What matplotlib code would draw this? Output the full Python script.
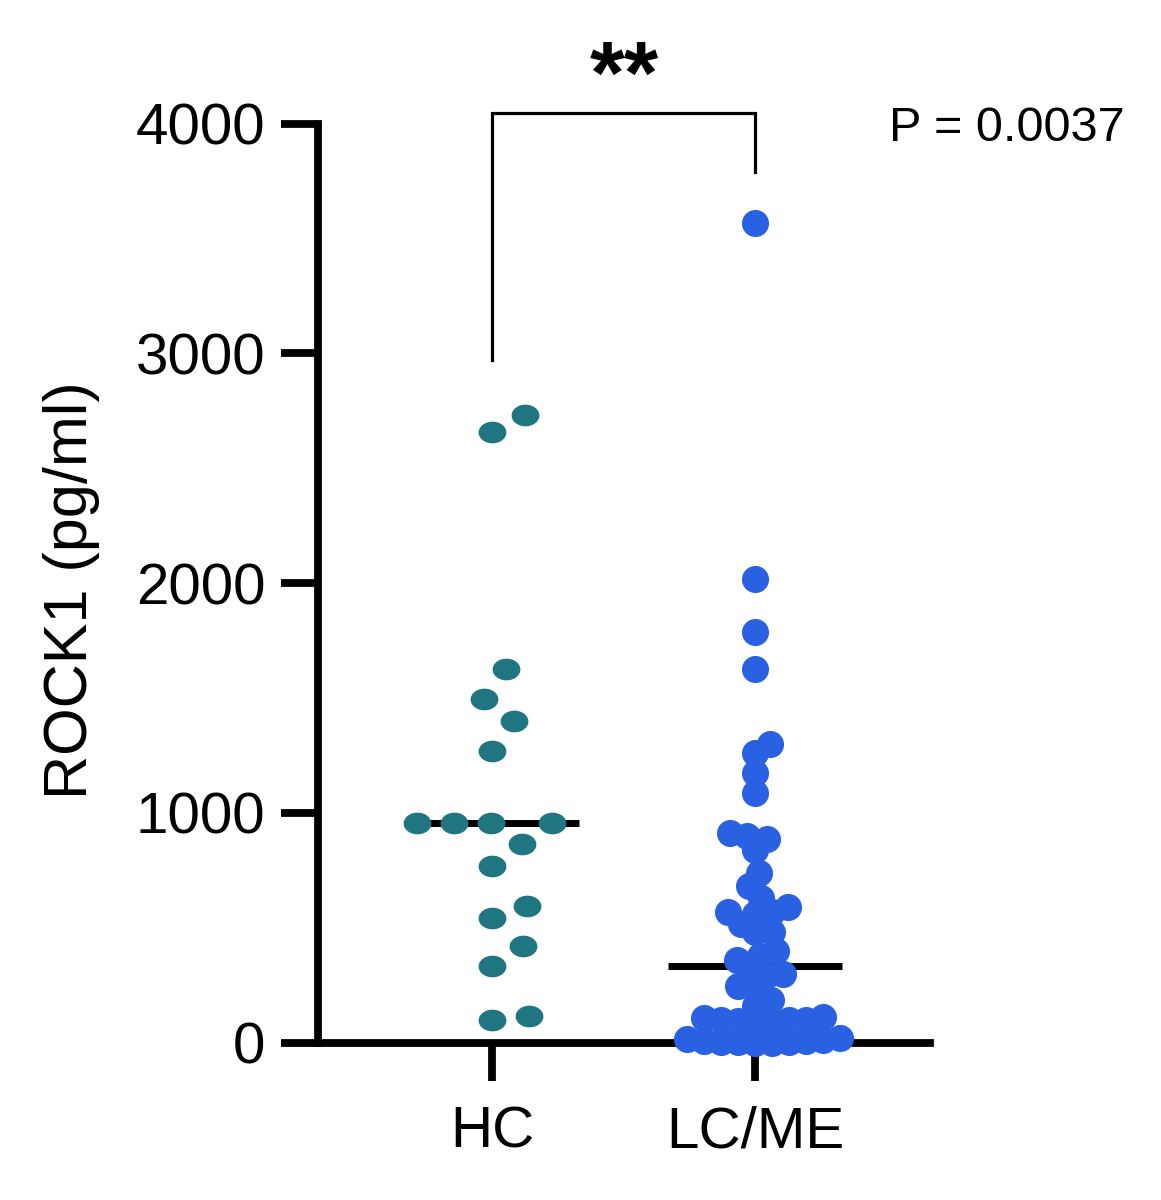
import numpy as np
import matplotlib
matplotlib.use("Agg")
import matplotlib.pyplot as plt
from matplotlib.path import Path
from matplotlib.markers import MarkerStyle

# ---------------- data ----------------
groups = ["HC", "LC/ME"]
hc_values = [2733, 2659, 1627, 1497, 1401, 1271, 957, 957, 957, 957,
             866, 770, 596, 540, 422, 335, 117, 96]
lc_values = [3569, 2020, 1789, 1628, 1301, 1262, 1175, 1088, 910, 901,
             888, 836, 740, 683, 631, 590, 566, 566, 561, 518, 479, 479,
             400, 375, 357, 313, 300, 290, 248, 235, 183, 160, 113, 105,
             100, 96, 96, 92, 88, 85, 20, 15, 10, 8, 5, 4, 3, 2, 0, 0]
y_ticks = [0, 1000, 2000, 3000, 4000]
y_label = "ROCK1 (pg/ml)"
p_text = "P = 0.0037"
sig_text = "**"
bracket_left_bottom = 2971
bracket_right_bottom = 3790
bracket_top = 4047

hc_color = "#1F7580"
lc_color = "#2A60E2"

plt.rcParams['font.family'] = ['Liberation Sans', 'DejaVu Sans']

W, H = 1161, 1200
fig = plt.figure(figsize=(W / 100, H / 100), dpi=100)
x0, x1 = 318, 930
y0, y1 = 1042.5, 123.7
ax = fig.add_axes([x0 / W, 1 - y0 / H, (x1 - x0) / W, (y0 - y1) / H])
ax.set_xlim(-0.662, 1.665)
ax.set_ylim(0, 4000)

for s in ["top", "right"]:
    ax.spines[s].set_visible(False)
for s in ["left", "bottom"]:
    ax.spines[s].set_linewidth(5.6)
    ax.spines[s].set_capstyle("projecting")

ax.set_yticks(y_ticks)
ax.set_yticklabels([str(t) for t in y_ticks])
ax.set_xticks([0, 1])
ax.set_xticklabels(groups)
ax.tick_params(axis="both", direction="out", length=27, width=5.6,
               labelsize=42, colors="black")
ax.tick_params(axis="y", pad=11)
ax.tick_params(axis="x", pad=18)

fig.text(72 / W, 1 - 590 / H, y_label, rotation=90, ha="center",
         va="center", fontsize=44)


def swarm_offsets(values, center, d_px):
    trans = ax.transData
    vals = np.asarray(values, dtype=float)
    pts = trans.transform(np.column_stack([np.full(len(vals), center), vals]))
    ys = pts[:, 1]
    px_per_x = trans.transform([[1, 0]])[0, 0] - trans.transform([[0, 0]])[0, 0]
    order = np.argsort(ys, kind="stable")
    placed = []
    offs = np.zeros(len(vals))
    for i in order:
        y = ys[i]
        neigh = [(xo, yo) for xo, yo in placed if abs(yo - y) < d_px]
        cands = [0.0]
        for xo, yo in neigh:
            dx = np.sqrt(d_px ** 2 - (yo - y) ** 2)
            cands += [xo + dx, xo - dx]
        cands.sort(key=lambda c: (round(abs(c), 6), -c))
        for c in cands:
            if all((c - xo) ** 2 + (y - yo) ** 2 >= d_px ** 2 - 1e-6
                   for xo, yo in neigh):
                offs[i] = c
                break
        placed.append((offs[i], y))
    return center + offs / px_per_x, vals


# elliptical marker for HC
theta = np.linspace(0, 2 * np.pi, 64)
ell_verts = np.column_stack([np.cos(theta), 0.78 * np.sin(theta)])
ell_marker = MarkerStyle(Path(ell_verts, closed=True))

hx, hy = swarm_offsets(hc_values, 0, 37)
lx, ly = swarm_offsets(lc_values, 1, 17)

ax.plot(hx, hy, linestyle="none", marker=ell_marker, markersize=20,
        color=hc_color, markeredgewidth=0, clip_on=False, zorder=4)
ax.plot(lx, ly, linestyle="none", marker="o", markersize=19.5,
        color=lc_color, markeredgewidth=0, clip_on=False, zorder=4)

# median lines
for i, vals in enumerate([hc_values, lc_values]):
    m = np.median(vals)
    ax.hlines(m, i - 0.33, i + 0.33, color="black", linewidth=5.0, zorder=3)

# significance bracket
ax.plot([0, 0, 1, 1],
        [bracket_left_bottom, bracket_top, bracket_top, bracket_right_bottom],
        color="black", linewidth=2.3, clip_on=False, solid_joinstyle="miter")
ax.text(0.503, 4010, sig_text, ha="center", va="bottom", fontsize=64,
        fontweight="bold")
fig.text(1125 / W, 1 - 141 / H, p_text, ha="right", va="baseline",
         fontsize=35)

fig.savefig("out.png", dpi=100, facecolor="white")
